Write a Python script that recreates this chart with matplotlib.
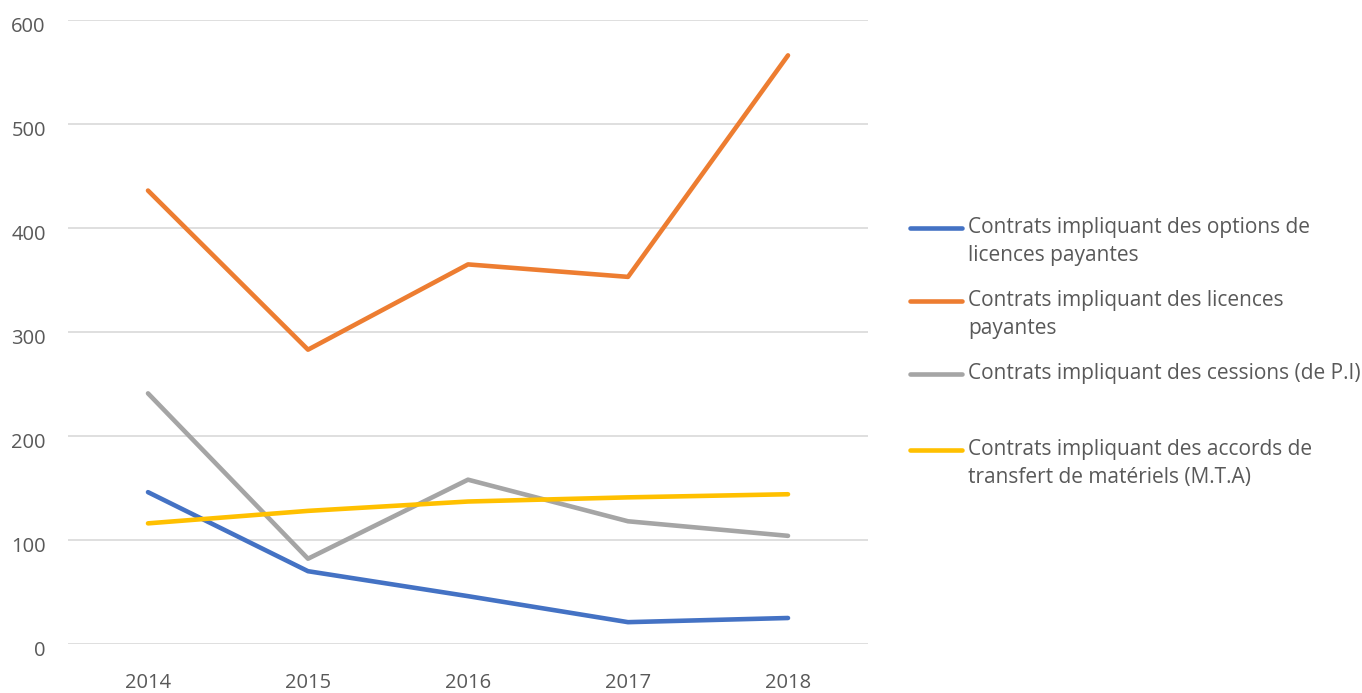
"""
Line chart of contract counts per year, Excel style.
"""
import matplotlib.pyplot as plt
from matplotlib.lines import Line2D
from matplotlib.transforms import ScaledTranslation

years = ["2014", "2015", "2016", "2017", "2018"]
options_licences = [146, 70, 46, 21, 25]
licences = [436, 283, 365, 353, 566]
cessions = [241, 82, 158, 118, 104]
mta = [116, 128, 137, 141, 144]

labels = [
    "Contrats impliquant des options de\nlicences payantes",
    "Contrats impliquant des licences\npayantes",
    "Contrats impliquant des cessions (de P.I)",
    "Contrats impliquant des accords de\ntransfert de matériels (M.T.A)",
]
colors = ["#4472C4", "#ED7D31", "#A5A5A5", "#FFC000"]
text_color = "#595959"

plt.rcParams["font.family"] = ["Open Sans", "DejaVu Sans"]

W, H = 1362, 693
fig = plt.figure(figsize=(W / 100, H / 100), dpi=100)
ax = fig.add_axes([68 / W, 1 - 644 / H, 800 / W, 624 / H])

x = range(len(years))
for values, color in zip([options_licences, licences, cessions, mta], colors):
    ax.plot(x, values, color=color, linewidth=3.3, solid_capstyle="round",
            solid_joinstyle="round")

ax.set_xlim(-0.5, len(years) - 0.5)
ax.set_ylim(0, 600)
ax.set_yticks(range(0, 601, 100))
ax.set_xticks(list(x))
ax.set_xticklabels(years)
ax.yaxis.grid(True, color="#D9D9D9", linewidth=1.2)
ax.set_axisbelow(True)
for spine in ax.spines.values():
    spine.set_visible(False)
ax.tick_params(length=0, labelsize=14.5, colors=text_color)
ax.tick_params(axis="x", pad=21)
ax.tick_params(axis="y", pad=16)
# Excel sits the value labels a little below their gridline
shift = ScaledTranslation(0, -4 / 100, fig.dpi_scale_trans)
for lbl in ax.get_yticklabels():
    lbl.set_transform(lbl.get_transform() + shift)

# legend drawn by hand so the swatch sits on the first text line
first_line_y = [228, 301, 374, 450]
for label, color, y in zip(labels, colors, first_line_y):
    fig.add_artist(Line2D([910 / W, 962 / W], [1 - y / H, 1 - y / H],
                          color=color, linewidth=3.3, solid_capstyle="round",
                          transform=fig.transFigure))
    fig.text(968 / W, 1 - (y - 11) / H, label, color=text_color, fontsize=15,
             va="top", ha="left", linespacing=1.45)

fig.savefig("out.png", dpi=100)
